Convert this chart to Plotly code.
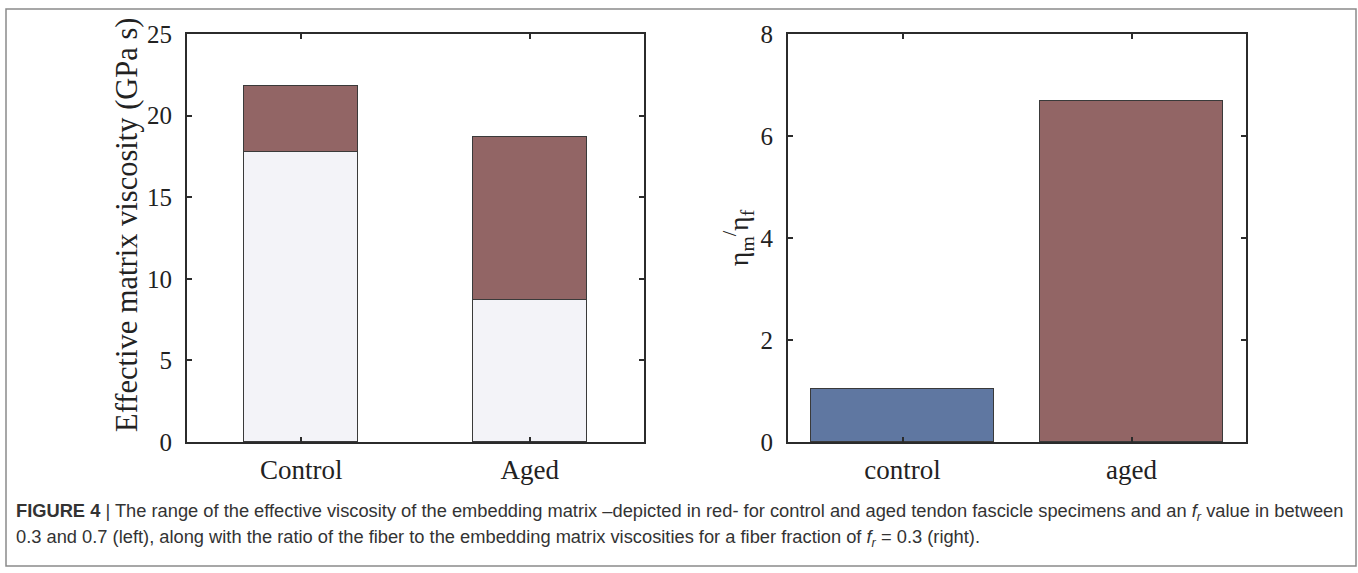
import plotly.graph_objects as go

W, H = 1358, 573

# ---- data ----
left_categories = ["Control", "Aged"]
visc_lower = [17.8, 8.7]     # GPa s, lower bound (f_r = 0.7)
visc_upper = [21.8, 18.7]    # GPa s, upper bound (f_r = 0.3)
right_categories = ["control", "aged"]
ratio_values = [1.04, 6.69]  # eta_m / eta_f
left_yticks = [0, 5, 10, 15, 20, 25]
right_yticks = [0, 2, 4, 6, 8]

RED = "#926565"
BLUE = "#5f77a1"
GREY = "#f3f3f8"
EDGE = "#3a3a3a"
AX = "#2b2b2b"
SERIF = "Liberation Serif, Times New Roman, serif"

def px(x):
    return x / W

def py(y):
    return 1 - y / H

fig = go.Figure()

visc_range = [u - l for u, l in zip(visc_upper, visc_lower)]
fig.add_trace(go.Bar(x=left_categories, y=visc_lower, width=0.5, marker=dict(color=GREY, line=dict(color=EDGE, width=1)),
                     xaxis="x", yaxis="y", showlegend=False, hoverinfo="skip"))
fig.add_trace(go.Bar(x=left_categories, y=visc_range, width=0.5, marker=dict(color=RED, line=dict(color=EDGE, width=1)),
                     xaxis="x", yaxis="y", showlegend=False, hoverinfo="skip"))
fig.add_trace(go.Bar(x=right_categories, y=ratio_values, width=0.8,
                     marker=dict(color=[BLUE, RED], line=dict(color=EDGE, width=1)),
                     xaxis="x2", yaxis="y2", showlegend=False, hoverinfo="skip"))

axis_common = dict(showline=True, linecolor=AX, linewidth=2, mirror="ticks", ticks="inside",
                   ticklen=5, tickwidth=1.5, tickcolor=AX, showgrid=False, zeroline=False,
                   automargin=False)
xfont = dict(family=SERIF, size=27, color="#222")
yfont = dict(family=SERIF, size=25, color="#222")

fig.update_layout(
    width=W, height=H, margin=dict(l=0, r=0, t=0, b=0, pad=0), autosize=False,
    paper_bgcolor="white", plot_bgcolor="white", barmode="stack", bargap=0,
    xaxis=dict(domain=[px(187), px(644)], anchor="y", type="category", range=[-0.5, 1.5],
               ticklabelstandoff=3, tickfont=xfont, **axis_common),
    yaxis=dict(domain=[py(442), py(34)], anchor="x", range=[0, 25], tickvals=left_yticks,
               ticklabelstandoff=8, tickfont=yfont, **axis_common),
    xaxis2=dict(domain=[px(788), px(1246)], anchor="y2", type="category", range=[-0.5, 1.5],
                ticklabelstandoff=3, tickfont=xfont, **axis_common),
    yaxis2=dict(domain=[py(442), py(34)], anchor="x2", range=[0, 8], tickvals=right_yticks,
                ticklabelstandoff=8, tickfont=yfont,
                title=dict(text="η<sub>m</sub><sup>/</sup>η<sub>f</sub>", font=dict(family=SERIF, size=28, color="#222"), standoff=4),
                **axis_common),
)

# left y-axis label
fig.add_annotation(text="Effective matrix viscosity (GPa s)", xref="paper", yref="paper", x=px(127), y=py(225),
                   xanchor="center", yanchor="middle", textangle=-90, showarrow=False,
                   font=dict(family=SERIF, size=30.5, color="#222"))

# outer frame
fig.add_shape(type="rect", xref="paper", yref="paper", x0=px(6), x1=px(1356), y0=py(566), y1=py(9),
              line=dict(color="#8a8a8a", width=1.5), fillcolor="rgba(0,0,0,0)", layer="below")

CAP = "Liberation Sans, Arial, sans-serif"
line1 = ("<b>FIGURE 4</b> | The range of the effective viscosity of the embedding matrix –depicted in red- "
         "for control and aged tendon fascicle specimens and an <i>f<sub>r</sub></i> value in between")
line2 = ("0.3 and 0.7 (left), along with the ratio of the fiber to the embedding matrix viscosities for a fiber fraction of "
         "<i>f<sub>r</sub></i> = 0.3 (right).")
for txt, y in [(line1, 512), (line2, 538)]:
    fig.add_annotation(text=txt, xref="paper", yref="paper", x=px(14), y=py(y), xanchor="left", yanchor="middle",
                       showarrow=False, font=dict(family=CAP, size=18.3, color="#333"))

fig.write_html("out.html", config={"displayModeBar": False},
               post_script="document.body.style.margin='0';document.body.style.overflow='hidden';")
